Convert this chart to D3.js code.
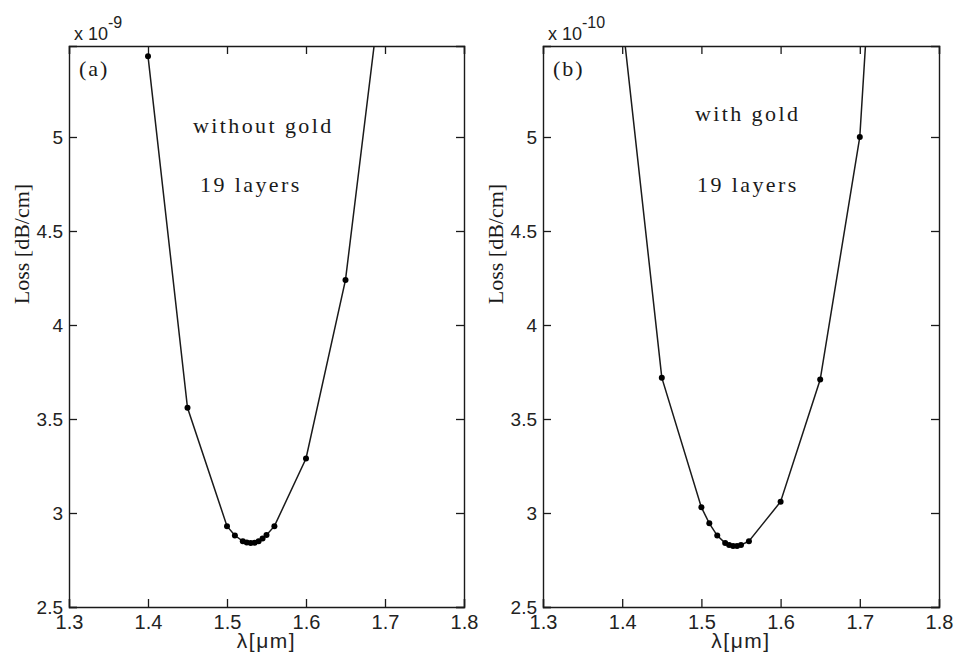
<!DOCTYPE html>
<html>
<head>
<meta charset="utf-8">
<script src="https://cdn.jsdelivr.net/npm/d3@7"></script>
<style>
  body { margin: 0; background: #fff; }
  svg { display: block; }
</style>
</head>
<body>
<svg id="chart" width="956" height="655"></svg>
<script>
// ---- data ----
const xTicks = [1.3, 1.4, 1.5, 1.6, 1.7, 1.8];
const yTicks = [2.5, 3, 3.5, 4, 4.5, 5];
const xDomain = [1.3, 1.8];
const yDomain = [2.5, 5.484];

const wavelengthA = [1.40, 1.45, 1.50, 1.51, 1.52, 1.525, 1.53, 1.535, 1.54, 1.545, 1.55, 1.56, 1.60, 1.65, 1.70];
const lossA       = [5.43, 3.56, 2.93, 2.88, 2.85, 2.843, 2.84, 2.842, 2.85, 2.865, 2.883, 2.93, 3.29, 4.24, 5.96];

const wavelengthB = [1.40, 1.45, 1.50, 1.51, 1.52, 1.53, 1.535, 1.54, 1.545, 1.55, 1.56, 1.60, 1.65, 1.70, 1.75];
const lossB       = [5.63, 3.72, 3.03, 2.945, 2.88, 2.84, 2.83, 2.825, 2.825, 2.83, 2.85, 3.06, 3.71, 5.0, 8.4];

const panels = [
  { id: "a", left: 69, right: 464, x: wavelengthA, y: lossA, tag: "(a)", exp: "-9",
    notes: [{t: "without gold", dx: 124, y: 133}, {t: "19 layers", dx: 131, y: 192}] },
  { id: "b", left: 543, right: 939, x: wavelengthB, y: lossB, tag: "(b)", exp: "-10",
    notes: [{t: "with gold", dx: 152, y: 121}, {t: "19 layers", dx: 154, y: 192}] }
];

const plotTop = 46, plotBottom = 607;
const svg = d3.select("#chart");
svg.append("rect").attr("width", 956).attr("height", 655).attr("fill", "#fff");

const sans = "'Liberation Sans', Arial, sans-serif";
const serif = "'Liberation Serif', 'Times New Roman', serif";
const ink = "#1a1a1a";

panels.forEach(p => {
  const x = d3.scaleLinear().domain(xDomain).range([p.left, p.right]);
  const y = d3.scaleLinear().domain(yDomain).range([plotBottom, plotTop]);
  const g = svg.append("g");

  const clipId = "clip-" + p.id;
  g.append("clipPath").attr("id", clipId)
    .append("rect").attr("x", p.left).attr("y", plotTop)
    .attr("width", p.right - p.left).attr("height", plotBottom - plotTop);

  // axes (inward ticks, mirrored)
  const axB = d3.axisBottom(x).tickValues(xTicks).tickSize(-8).tickPadding(8).tickFormat(d3.format(".1f"));
  const axT = d3.axisTop(x).tickValues(xTicks).tickSize(-8).tickFormat("");
  const axL = d3.axisLeft(y).tickValues(yTicks).tickSize(-8).tickPadding(6).tickFormat(d => d3.format("")(d));
  const axR = d3.axisRight(y).tickValues(yTicks).tickSize(-8).tickFormat("");

  const gb = g.append("g").attr("transform", `translate(0,${plotBottom})`).call(axB);
  const gt = g.append("g").attr("transform", `translate(0,${plotTop})`).call(axT);
  const gl = g.append("g").attr("transform", `translate(${p.left},0)`).call(axL);
  const gr = g.append("g").attr("transform", `translate(${p.right},0)`).call(axR);
  [gb, gt, gl, gr].forEach(a => {
    a.selectAll("path.domain").attr("stroke", ink).attr("stroke-width", 1.4);
    a.selectAll(".tick line").attr("stroke", ink).attr("stroke-width", 1.3);
    a.selectAll(".tick text").attr("fill", "#222").style("font-family", sans);
  });
  gb.selectAll(".tick text").style("font-size", "20px");
  gl.selectAll(".tick text").style("font-size", "19px").attr("dy", "0.34em");

  // line + markers
  const pts = p.x.map((v, i) => [v, p.y[i]]);
  const plot = g.append("g").attr("clip-path", `url(#${clipId})`);
  plot.append("path").datum(pts)
    .attr("fill", "none").attr("stroke", ink).attr("stroke-width", 1.5)
    .attr("d", d3.line().x(d => x(d[0])).y(d => y(d[1])));
  plot.selectAll("circle").data(pts).enter().append("circle")
    .attr("cx", d => x(d[0])).attr("cy", d => y(d[1])).attr("r", 3)
    .attr("fill", "#000");

  // exponent label
  const ex = g.append("text").attr("x", p.left + 5).attr("y", 40)
    .attr("fill", "#222").style("font-family", sans).style("font-size", "18px");
  ex.append("tspan").text("x 10");
  ex.append("tspan").attr("dy", -12).style("font-size", "16px").text(p.exp);

  // panel tag
  g.append("text").attr("x", p.left + 10).attr("y", 76)
    .attr("fill", ink).style("font-family", serif).style("font-size", "22px")
    .style("letter-spacing", "2px").text(p.tag);

  // annotations
  p.notes.forEach(n => {
    g.append("text").attr("x", p.left + n.dx).attr("y", n.y)
      .attr("fill", ink).style("font-family", serif).style("font-size", "22px")
      .style("letter-spacing", "2.4px").text(n.t);
  });

  // axis titles
  g.append("text").attr("x", (p.left + p.right) / 2).attr("y", 648)
    .attr("text-anchor", "middle").attr("fill", "#222")
    .style("font-family", sans).style("font-size", "21px")
    .style("letter-spacing", "1.5px").text("λ[μm]");
  g.append("text")
    .attr("transform", `translate(${p.left - 40},244) rotate(-90)`)
    .attr("text-anchor", "middle").attr("fill", ink)
    .style("font-family", serif).style("font-size", "22px").text("Loss [dB/cm]");
});
</script>
</body>
</html>
